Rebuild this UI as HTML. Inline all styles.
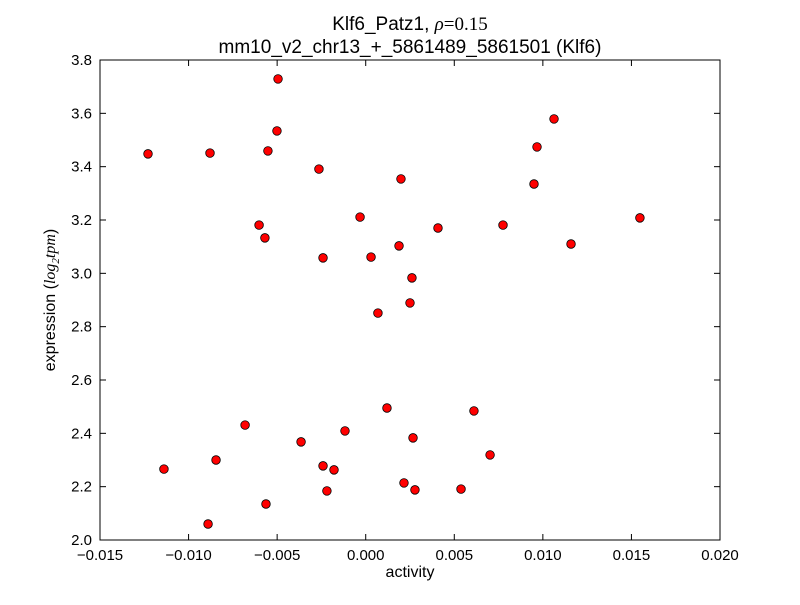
<!DOCTYPE html>
<html><head><meta charset="utf-8"><style>
body{margin:0;background:#fff;}
svg text{font-family:"Liberation Sans",sans-serif;fill:#000;}
</style></head><body>
<svg id="chart" width="800" height="600" xmlns="http://www.w3.org/2000/svg">
<rect width="800" height="600" fill="#fff"/>
<text x="410" y="30" font-size="19" text-anchor="middle">Klf6_Patz1, <tspan font-family="Liberation Serif" font-style="italic">ρ</tspan><tspan font-family="Liberation Serif">=0.15</tspan></text>
<text x="410" y="53" font-size="19" text-anchor="middle">mm10_v2_chr13_+_5861489_5861501 (Klf6)</text>
<g id="ticks"></g>
<g id="points"></g>
<rect x="100" y="60" width="620" height="480" fill="none" stroke="#000" stroke-width="1"/>
<text x="410" y="577" font-size="16" text-anchor="middle">activity</text>
<text transform="translate(55,300) rotate(-90)" font-size="16" text-anchor="middle">expression (<tspan font-family="Liberation Serif" font-style="italic">log</tspan><tspan font-family="Liberation Serif" font-style="italic" font-size="11" dy="4">2</tspan><tspan font-family="Liberation Serif" font-style="italic" dy="-4">tpm</tspan>)</text>
</svg>
<script>
const xTicks=[-0.015,-0.010,-0.005,0.000,0.005,0.010,0.015,0.020];
const xTickLabels=["\u22120.015","\u22120.010","\u22120.005","0.000","0.005","0.010","0.015","0.020"];
const yTicks=[2.0,2.2,2.4,2.6,2.8,3.0,3.2,3.4,3.6,3.8];
const yTickLabels=["2.0","2.2","2.4","2.6","2.8","3.0","3.2","3.4","3.6","3.8"];
const activity=[-0.00495,0.01063,-0.00501,-0.01229,-0.00879,-0.00552,0.00967,-0.00264,0.00199,0.0095,-0.00032,0.01548,-0.00602,0.00775,0.00408,-0.00569,0.01159,0.00188,-0.00241,0.0003,0.00261,0.0025,0.00069,0.0012,0.00611,-0.00681,-0.00117,-0.00365,0.00267,0.00702,-0.00845,-0.01139,-0.00241,-0.00179,0.00216,-0.00563,-0.00219,0.00278,0.00538,-0.0089];
const expression=[3.729,3.579,3.534,3.448,3.451,3.459,3.474,3.391,3.354,3.335,3.211,3.208,3.181,3.181,3.17,3.133,3.11,3.103,3.058,3.061,2.983,2.889,2.851,2.495,2.484,2.431,2.409,2.368,2.383,2.319,2.3,2.266,2.278,2.263,2.214,2.135,2.184,2.188,2.191,2.06];
const X0=100,X1=720,Y0=540,Y1=60,xmin=-0.015,xmax=0.020,ymin=2.0,ymax=3.8;
function sx(v){return X0+(v-xmin)/(xmax-xmin)*(X1-X0);}
function sy(v){return Y0-(v-ymin)/(ymax-ymin)*(Y0-Y1);}
const NS="http://www.w3.org/2000/svg";
const tg=document.getElementById('ticks');
function mk(tag,attrs,parent){const e=document.createElementNS(NS,tag);for(const k in attrs)e.setAttribute(k,attrs[k]);parent.appendChild(e);return e;}
xTicks.forEach((v,i)=>{const x=sx(v);
 mk('line',{x1:x,y1:Y0,x2:x,y2:Y0-6,stroke:'#000'},tg);
 mk('line',{x1:x,y1:Y1,x2:x,y2:Y1+6,stroke:'#000'},tg);
 const t=mk('text',{x:x,y:Y0+20,'font-size':15,'text-anchor':'middle'},tg);t.textContent=xTickLabels[i];
 
 
});
yTicks.forEach((v,i)=>{const y=sy(v);
 mk('line',{x1:X0,y1:y,x2:X0+6,y2:y,stroke:'#000'},tg);
 mk('line',{x1:X1,y1:y,x2:X1-6,y2:y,stroke:'#000'},tg);
 const t=mk('text',{x:X0-8,y:y+5,'font-size':15,'text-anchor':'end'},tg);t.textContent=yTickLabels[i];
 
 
});
const pg=document.getElementById('points');
activity.forEach((a,i)=>{
 const c=mk('circle',{cx:sx(a),cy:sy(expression[i]),r:4.3,fill:'#ff0000',stroke:'#000','stroke-width':0.8},pg);
 
 
});
</script>
</body></html>
